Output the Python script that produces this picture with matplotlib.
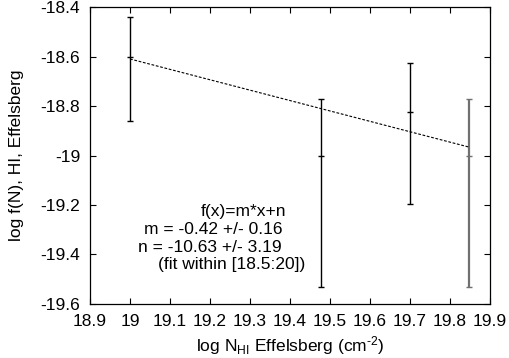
import matplotlib
matplotlib.use("Agg")
import matplotlib.pyplot as plt
import numpy as np

plt.rcParams['font.family'] = ['Liberation Sans', 'DejaVu Sans']
plt.rcParams['mathtext.fontset'] = 'custom'
plt.rcParams['mathtext.rm'] = 'Liberation Sans'
plt.rcParams['mathtext.it'] = 'Liberation Sans'

# data
x_vals = [19.0, 19.478, 19.70, 19.847]
y_vals = [-18.60, -19.00, -18.824, -19.00]
y_top = [-18.44, -18.772, -18.625, -18.772]
y_bot = [-18.86, -19.531, -19.196, -19.531]
bar_colors = ['black', 'black', 'black', '#707070']

fit_m = -0.42
fit_n = -10.63
fit_lines = ["f(x)=m*x+n", "m = -0.42 +/- 0.16", "n = -10.63 +/- 3.19", "(fit within [18.5:20])"]

xticks = [18.9, 19.0, 19.1, 19.2, 19.3, 19.4, 19.5, 19.6, 19.7, 19.8, 19.9]
xticklabels = ["18.9", "19", "19.1", "19.2", "19.3", "19.4", "19.5", "19.6", "19.7", "19.8", "19.9"]
yticks = [-19.6, -19.4, -19.2, -19.0, -18.8, -18.6, -18.4]
yticklabels = ["-19.6", "-19.4", "-19.2", "-19", "-18.8", "-18.6", "-18.4"]

FS = 12.5

fig = plt.figure(figsize=(5.1, 3.58), dpi=100)
ax = fig.add_axes([90/510, 54/358, 400/510, 297/358])

for xv, yv, yt, yb, c in zip(x_vals, y_vals, y_top, y_bot, bar_colors):
    lw = 1.0 if c == 'black' else 1.6
    _, caps, bars = ax.errorbar([xv], [yv], yerr=[[yv - yb], [yt - yv]], fmt='_',
                                color=c, ecolor=c, elinewidth=lw, capsize=2.5,
                                capthick=1.0, markersize=5, markeredgewidth=1.0)
    for cp in caps:
        cp.set_color('black')

xf = np.array([x_vals[0], x_vals[-1]])
ax.plot(xf, fit_m * xf + fit_n, color='black', linestyle=(0, (2.5, 1.5)), linewidth=0.8)

right_x = [19.39, 19.38, 19.38, 19.4375]
line_y = [-19.228, -19.297, -19.370, -19.442]
for t, tx, ty in zip(fit_lines, right_x, line_y):
    ax.text(tx, ty, t, ha='right', va='center', fontsize=FS)

ax.set_xlim(18.9, 19.9)
ax.set_ylim(-19.6, -18.4)
ax.set_xticks(xticks)
ax.set_xticklabels(xticklabels)
ax.set_yticks(yticks)
ax.set_yticklabels(yticklabels)
ax.tick_params(direction='in', length=4, width=0.8, top=True, right=True,
               labelsize=FS, pad=7)
for s in ax.spines.values():
    s.set_linewidth(0.9)

ax.set_xlabel("log N$_{\\mathregular{HI}}$ Effelsberg (cm$^{\\mathregular{\u2010}2}$)", fontsize=FS, labelpad=4)
ax.set_ylabel("log f(N), HI, Effelsberg", fontsize=FS, labelpad=12)

fig.savefig("out.png", dpi=100)
